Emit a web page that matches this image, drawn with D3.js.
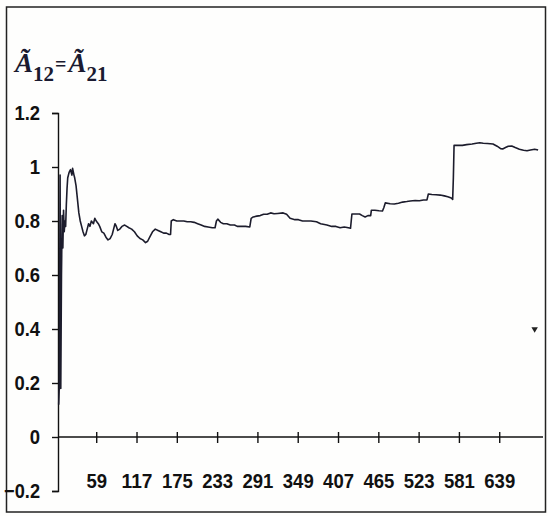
<!DOCTYPE html>
<html>
<head>
<meta charset="utf-8">
<script src="https://cdn.jsdelivr.net/npm/d3@7"></script>
<style>
  body { margin: 0; background: #fff; }
  svg { display: block; }
  .tick text { font-family: "Liberation Sans", Arial, sans-serif; font-weight: bold; }
</style>
</head>
<body>
<script>
var width = 548,
    height = 516;

var index = [5, 6, 7, 8, 9, 10, 11, 12, 13, 14, 15, 16, 17, 18, 20, 22, 24, 25, 27, 28, 30, 32, 34, 36, 38, 40, 42, 44, 46, 48, 50, 52, 55, 57, 59, 62, 64, 67, 70, 73, 76, 79, 82, 84, 86, 88, 90, 93, 96, 100, 103, 106, 110, 114, 118, 122, 126, 130, 133, 136, 140, 144, 148, 152, 156, 160, 164, 166, 167, 170, 175, 180, 185, 190, 195, 200, 205, 210, 215, 220, 226, 230, 232, 234, 238, 242, 247, 252, 258, 262, 268, 274, 280, 282, 285, 290, 295, 300, 305, 310, 315, 320, 328, 333, 338, 345, 350, 356, 362, 368, 376, 382, 391, 398, 404, 410, 416, 420, 425, 426, 427, 432, 438, 442, 446, 450, 454, 455, 460, 466, 471, 473, 475, 482, 488, 494, 500, 506, 511, 518, 524, 530, 535, 537, 542, 548, 554, 560, 565, 570, 572, 573, 574, 580, 586, 592, 600, 606, 611, 616, 622, 630, 636, 641, 644, 648, 652, 657, 662, 668, 674, 679, 684, 690, 695];
var values = [0.12, 0.20, 0.97, 0.18, 0.60, 0.82, 0.70, 0.84, 0.76, 0.80, 0.78, 0.86, 0.92, 0.96, 0.98, 0.99, 0.97, 0.995, 0.97, 0.96, 0.93, 0.88, 0.83, 0.80, 0.78, 0.76, 0.745, 0.75, 0.77, 0.79, 0.78, 0.80, 0.79, 0.81, 0.80, 0.79, 0.78, 0.76, 0.755, 0.74, 0.73, 0.735, 0.75, 0.77, 0.79, 0.78, 0.765, 0.77, 0.78, 0.785, 0.78, 0.775, 0.77, 0.76, 0.745, 0.735, 0.73, 0.72, 0.725, 0.74, 0.76, 0.77, 0.765, 0.76, 0.755, 0.755, 0.75, 0.75, 0.80, 0.805, 0.80, 0.80, 0.80, 0.797, 0.797, 0.795, 0.79, 0.785, 0.78, 0.778, 0.775, 0.775, 0.80, 0.807, 0.795, 0.79, 0.79, 0.785, 0.785, 0.78, 0.78, 0.78, 0.778, 0.81, 0.815, 0.818, 0.82, 0.825, 0.825, 0.83, 0.827, 0.828, 0.83, 0.825, 0.81, 0.805, 0.805, 0.80, 0.80, 0.80, 0.797, 0.79, 0.785, 0.78, 0.78, 0.775, 0.778, 0.776, 0.773, 0.80, 0.826, 0.826, 0.826, 0.82, 0.815, 0.82, 0.82, 0.84, 0.84, 0.838, 0.837, 0.85, 0.867, 0.864, 0.863, 0.866, 0.87, 0.872, 0.874, 0.876, 0.875, 0.878, 0.878, 0.90, 0.898, 0.897, 0.896, 0.893, 0.89, 0.885, 0.88, 0.96, 1.08, 1.08, 1.08, 1.083, 1.085, 1.088, 1.09, 1.088, 1.087, 1.085, 1.077, 1.068, 1.067, 1.072, 1.077, 1.078, 1.072, 1.066, 1.062, 1.06, 1.063, 1.066, 1.063];

// stray marker near the right edge
var strayPoint = [690, 0.40];

var xTicks = [59, 117, 175, 233, 291, 349, 407, 465, 523, 581, 639];
var yTicks = [-0.2, 0, 0.2, 0.4, 0.6, 0.8, 1, 1.2];

var svg = d3.select("body").append("svg")
    .attr("width", width)
    .attr("height", height);

svg.append("rect")
    .attr("x", 0).attr("y", 0)
    .attr("width", width).attr("height", height)
    .style("fill", "#fefefd");

// outer frame
svg.append("rect")
    .attr("x", 6.5).attr("y", 7)
    .attr("width", 539).attr("height", 505)
    .style("fill", "none")
    .style("stroke", "#222")
    .style("stroke-width", 1.5);

var x = d3.scaleLinear().domain([4, 702]).range([58, 543]);
var y = d3.scaleLinear().domain([-0.2, 1.2]).range([491, 113]);

var yAxis = svg.append("g")
    .attr("transform", "translate(58,0)")
    .call(d3.axisLeft(y)
        .tickValues(yTicks)
        .tickSizeInner(6)
        .tickSizeOuter(6)
        .tickPadding(12)
        .tickFormat(function(d) { return d3.format("")(+d.toFixed(1)); }));

var xAxis = svg.append("g")
    .attr("transform", "translate(0," + y(0) + ")")
    .call(d3.axisBottom(x)
        .tickValues(xTicks)
        .tickSizeInner(6)
        .tickSizeOuter(0)
        .tickPadding(30));

xAxis.selectAll(".tick line").attr("y1", -5).attr("y2", 6);

svg.selectAll(".domain, .tick line")
    .style("stroke", "#111")
    .style("stroke-width", 1.4);

// the labels in the picture use a narrow face: squeeze them to its widths
var labelWidth = function(s) {
    var w = 0;
    for (var c of s) w += (c === ".") ? 5 : (c === "-") ? 6 : 10.3;
    return w;
};

svg.selectAll(".tick text")
    .style("font-size", "21px")
    .style("fill", "#111")
    .attr("textLength", function() { return labelWidth(this.textContent); })
    .attr("lengthAdjust", "spacingAndGlyphs");

yAxis.selectAll(".tick text").attr("x", -18);

// the x axis ticks are drawn at the 0 line, the y axis is the full height
xAxis.select(".domain").attr("d", "M58,0H543");

var points = index.map(function(d, i) { return [d, values[i]]; });

var line = d3.line()
    .x(function(d) { return x(d[0]); })
    .y(function(d) { return y(d[1]); });

svg.append("path")
    .datum(points)
    .attr("d", line)
    .style("fill", "none")
    .style("stroke", "#1c1c2c")
    .style("stroke-width", 1.6)
    .style("stroke-linejoin", "round");

svg.append("path")
    .attr("d", d3.symbol().type(d3.symbolTriangle).size(18)())
    .attr("transform", "translate(" + x(strayPoint[0]) + "," + y(strayPoint[1]) + ") rotate(180)")
    .style("fill", "#222");

// title: A~12 = A~21
var title = svg.append("text")
    .attr("x", 15)
    .attr("y", 72)
    .style("font-family", "\"Liberation Serif\", serif")
    .style("font-weight", "bold")
    .style("fill", "#1a1a30");
title.append("tspan").text("Ã")
    .style("font-style", "italic").style("font-size", "27px");
title.append("tspan").text("12")
    .attr("dy", 9)
    .style("font-size", "21px");
title.append("tspan").text("=")
    .attr("dx", 1)
    .attr("dy", -10)
    .style("font-size", "20px");
title.append("tspan").text("Ã")
    .attr("dx", 2)
    .attr("dy", 1)
    .style("font-style", "italic").style("font-size", "27px");
title.append("tspan").text("21")
    .attr("dy", 9)
    .style("font-size", "21px");
</script>
</body>
</html>
